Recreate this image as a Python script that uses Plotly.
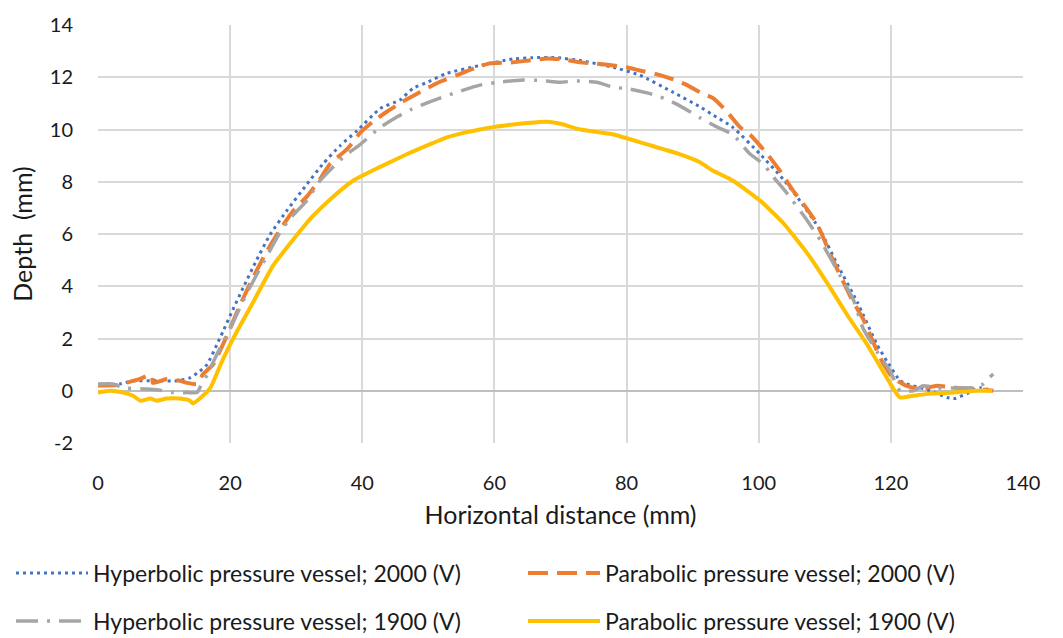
import plotly.graph_objects as go

# Hyperbolic pressure vessel; 2000 (V)
hyp2000_x = [0, 3.3, 5.3, 8.9, 12, 13.9, 15.4, 16.5, 18, 18.9, 20.4, 22, 24, 26, 28.6, 31.6, 34.1, 36.6, 39.2, 42.7,
             45.7, 47.7, 49.8, 52.8, 57.8, 62.8, 65.8, 69.4, 73, 78, 82, 87, 91.1, 93, 96.1, 100.2, 103.7, 106.3,
             109.3, 111.9, 114.9, 117.9, 119.4, 121.4, 122.4, 126, 128.5, 129.7, 131.5, 133.5, 135.3]
hyp2000_y = [0.2, 0.26, 0.38, 0.38, 0.38, 0.49, 0.75, 1.0, 1.77, 2.26, 3.1, 3.96, 5.0, 5.96, 6.9, 7.9, 8.7, 9.37, 9.95, 10.8,
             11.13, 11.58, 11.8, 12.15, 12.45, 12.7, 12.75, 12.75, 12.64, 12.38, 12.08, 11.43, 10.87, 10.57, 10.08, 9.06, 8.1, 7.25,
             6.15, 4.83, 3.4, 1.77, 1.13, 0.38, 0.26, 0.0, -0.26, -0.3, -0.11, 0.11, 0.0]

# Parabolic pressure vessel; 2000 (V)
par2000_x = [0, 3, 5.3, 6.4, 7.4, 8.2, 8.3, 10.4, 12.4, 13.5, 15, 15.9, 17.4, 19.5, 21.5, 23.5, 25.6, 27.5, 29.5, 31.6,
             33.6, 35.1, 37.7, 39.7, 41.6, 43.7, 46, 48.7, 51.5, 54.3, 57, 59.3, 62.8, 65.5, 68, 70.5, 73, 75.5, 78, 80,
             82, 84.5, 86.6, 89, 91.1, 93.1, 95.2, 97.2, 98.7, 101.3, 103.2, 105.2, 106.7, 108.8, 111.2, 114.3, 115.8,
             118.4, 120.3, 122.4, 124.4, 127, 130, 133, 135.5]
par2000_y = [0.2, 0.22, 0.38, 0.45, 0.57, 0.57, 0.3, 0.45, 0.38, 0.3, 0.26, 0.64, 1.0, 2.1, 3.28, 4.35, 5.36, 6.15, 6.87, 7.43,
             8.1, 8.68, 9.25, 9.88, 10.3, 10.68, 11.05, 11.43, 11.8, 12.08, 12.35, 12.53, 12.57, 12.65, 12.72, 12.68, 12.57, 12.52, 12.45, 12.38,
             12.26, 12.12, 11.96, 11.72, 11.43, 11.2, 10.68, 10.08, 9.8, 9.06, 8.42, 7.66, 7.17, 6.4, 5.02, 3.4, 2.75,
             1.25, 0.49, 0.19, 0.07, 0.19, 0.11, 0.07, 0.0]

# Hyperbolic pressure vessel; 1900 (V)
hyp1900_x = [0, 2.3, 3.8, 6.8, 8.9, 11.4, 13.5, 15, 15.4, 16.5, 18, 20, 22.6, 25, 27.5, 29.1, 31.6, 33.6, 37.1, 39.7,
             42.7, 45.3, 47.5, 50.2, 54, 57.8, 61, 64.3, 67, 69.9, 72.5, 75.5, 78, 80.5, 83.1, 85.1, 87.5, 89.6, 91.1,
             93.5, 96.1, 98.7, 100.7, 102.2, 104.3, 107.3, 109.3, 112.3, 114.3, 115.8, 117.9, 119.9, 121.4, 123.4,
             124.9, 127, 129.4, 132, 134, 134.7, 135.5]
hyp1900_y = [0.26, 0.26, 0.11, 0.07, 0.04, -0.07, -0.07, -0.07, 0.11, 0.6, 1.4, 2.38, 3.77, 4.9, 6.04, 6.6, 7.28, 8.04, 8.94, 9.43,
             10.08, 10.49, 10.78, 11.06, 11.4, 11.7, 11.82, 11.89, 11.88, 11.81, 11.86, 11.81, 11.62, 11.55, 11.4, 11.25, 10.98, 10.68, 10.45,
             10.12, 9.8, 9.06, 8.68, 8.19, 7.55, 6.53, 5.77, 4.42, 3.5, 2.38, 1.5, 0.75, 0.0, 0.0,
             0.19, 0.11, 0.11, 0.11, 0.26, 0.45, 0.64]

# Parabolic pressure vessel; 1900 (V)
par1900_x = [0, 1.8, 3.8, 5.3, 6.4, 7.9, 8.9, 10.4, 12.4, 13.9, 14.4, 15.4, 17, 18.9, 21, 23.5, 26.5, 29.5, 32.5, 35.6,
             38.6, 42.7, 46.8, 50.2, 52.8, 55, 57.8, 60, 62.8, 65, 68, 70, 73, 78, 83.1, 88.1, 91.1, 93.1, 96.1, 100.2,
             103.7, 107.3, 110.3, 113.4, 116.4, 118.8, 120.3, 121.4, 123.4, 126, 129.4, 133, 135.3]
par1900_y = [-0.07, 0.0, -0.07, -0.19, -0.38, -0.3, -0.38, -0.3, -0.3, -0.38, -0.49, -0.3, 0.11, 1.2, 2.26, 3.4, 4.79, 5.77, 6.68, 7.43,
             8.04, 8.57, 9.06, 9.43, 9.7, 9.85, 10.0, 10.1, 10.19, 10.25, 10.3, 10.22, 10.0, 9.81, 9.43, 9.05, 8.75, 8.42, 8.04, 7.28,
             6.42, 5.28, 4.15, 2.9, 1.77, 0.75, 0.11, -0.26, -0.19, -0.11, -0.07, 0.0, 0.0]

x_ticks = [0, 20, 40, 60, 80, 100, 120, 140]
y_ticks = [-2, 0, 2, 4, 6, 8, 10, 12, 14]
y_tick_text = ["-2", "0", "2", "4", "6", "8", "10", "12", "14"]

FONT = "Lato"
TXT = "#1a1a1a"

fig = go.Figure()
fig.add_trace(go.Scatter(x=hyp2000_x, y=hyp2000_y, mode="lines", name="Hyperbolic pressure vessel; 2000 (V)",
                         line=dict(color="#4472C4", width=3, dash="3px,4px", shape="spline", smoothing=0.5),
                         legend="legend", showlegend=True))
fig.add_trace(go.Scatter(x=par2000_x, y=par2000_y, mode="lines", name="Parabolic pressure vessel; 2000 (V)",
                         line=dict(color="#ED7D31", width=4, dash="20px,9px", shape="spline", smoothing=0.5),
                         legend="legend2", showlegend=True))
fig.add_trace(go.Scatter(x=hyp1900_x, y=hyp1900_y, mode="lines", name="Hyperbolic pressure vessel; 1900 (V)",
                         line=dict(color="#A5A5A5", width=3.5, dash="22px,9px,3px,9px", shape="spline", smoothing=0.5),
                         legend="legend3", showlegend=True))
fig.add_trace(go.Scatter(x=par1900_x, y=par1900_y, mode="lines", name="Parabolic pressure vessel; 1900 (V)",
                         line=dict(color="#FFC000", width=4, shape="spline", smoothing=0.5),
                         legend="legend4", showlegend=True))

legend_common = dict(orientation="h", xref="container", yref="container", xanchor="left", yanchor="middle",
                     font=dict(family=FONT, size=23, color=TXT), visible=True,
                     bgcolor="rgba(0,0,0,0)", itemwidth=72)

fig.update_layout(
    width=1063, height=638,
    showlegend=True,
    margin=dict(l=98, r=40, t=19, b=195),
    paper_bgcolor="white", plot_bgcolor="white",
    font=dict(family=FONT, size=20, color=TXT),
    legend=dict(x=11 / 1063, y=1 - 573 / 638, **legend_common),
    legend2=dict(x=523 / 1063, y=1 - 573 / 638, **legend_common),
    legend3=dict(x=11 / 1063, y=1 - 621 / 638, **legend_common),
    legend4=dict(x=523 / 1063, y=1 - 621 / 638, **legend_common),
    xaxis=dict(range=[0, 140], tickvals=x_ticks, showgrid=True, gridcolor="#D9D9D9", gridwidth=1.5,
               zeroline=False, showline=False, ticks="", ticklabelstandoff=26,
               tickfont=dict(family=FONT, size=20, color=TXT),
               title=dict(text="Horizontal distance (mm)", font=dict(family=FONT, size=25, color=TXT), standoff=13)),
    yaxis=dict(range=[-2, 14], tickvals=y_ticks, ticktext=y_tick_text, showgrid=True, gridcolor="#D9D9D9", gridwidth=1.5,
               zeroline=True, zerolinecolor="#BFBFBF", zerolinewidth=1.5, showline=False, ticks="",
               ticklabelstandoff=24,
               tickfont=dict(family=FONT, size=20, color=TXT),
               title=dict(text="Depth\u00a0 (mm)", font=dict(family=FONT, size=25, color=TXT), standoff=10)),
)

fig.write_html("out.html")
